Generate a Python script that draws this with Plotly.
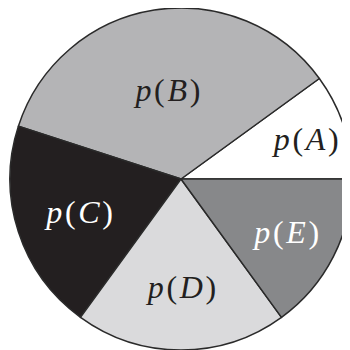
import plotly.graph_objects as go

categories = ["A", "B", "C", "D", "E"]
values = [10, 35, 20, 20, 15]
colors = ["#ffffff", "#b4b4b6", "#231f20", "#dadadc", "#87888a"]
text_colors = ["#231f20", "#231f20", "#ffffff", "#231f20", "#ffffff"]

sp = "\u200a"
labels_txt = [f"<i>p</i>{sp}({sp}<i>{c}</i>{sp})" for c in categories]

first_share = 360 * values[0] / sum(values)

fig = go.Figure(go.Pie(
    labels=categories,
    values=values,
    text=labels_txt,
    textinfo="text",
    textposition="inside",
    insidetextorientation="horizontal",
    sort=False,
    direction="counterclockwise",
    rotation=90 - first_share,
    marker=dict(colors=colors, line=dict(color="#2a2a2a", width=1.5)),
    textfont=dict(family="Liberation Serif", size=32, color=text_colors),
    hoverinfo="skip",
    showlegend=False,
))
fig.update_layout(
    width=350, height=350,
    margin=dict(l=2, r=6, t=0, b=8),
    paper_bgcolor="white",
    showlegend=False,
)
fig.write_html("out.html")
